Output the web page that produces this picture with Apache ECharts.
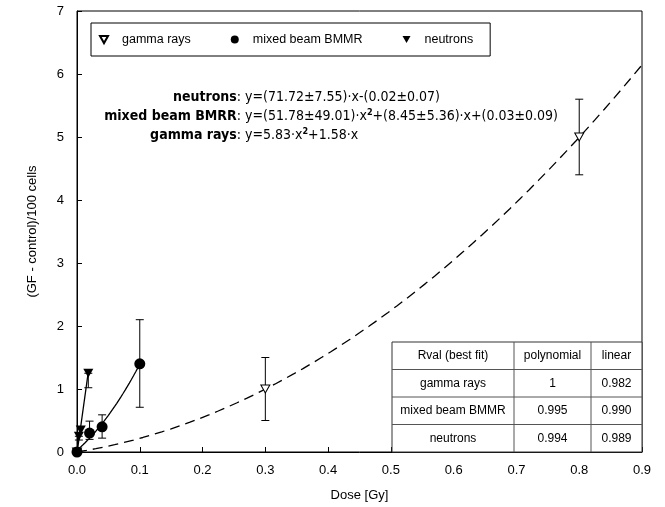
<!DOCTYPE html>
<html>
<head>
<meta charset="utf-8">
<script src="https://cdn.jsdelivr.net/npm/echarts@6/dist/echarts.min.js"></script>
<style>html,body{margin:0;padding:0;background:#fff}#c{width:665px;height:507px}</style>
</head>
<body>
<div id="c"></div>
<script>
// ---- data ----
const seriesNames = ['gamma rays', 'mixed beam BMMR', 'neutrons'];
const gammaX = [0, 0.3, 0.8];
const gammaY = [0, 1.0, 5.0];
const gammaLow = [0, 0.5, 4.4];
const gammaHigh = [0, 1.5, 5.6];
const mixedX = [0, 0.02, 0.04, 0.1];
const mixedY = [0, 0.3, 0.4, 1.4];
const mixedLow = [0, 0.2, 0.22, 0.71];
const mixedHigh = [0, 0.49, 0.59, 2.1];
const neutronX = [0.003, 0.006, 0.018];
const neutronY = [0.25, 0.35, 1.25];
const neutronLow = [0.19, 0.35, 1.02];
const neutronHigh = [0.25, 0.35, 1.25];
// fit coefficients as printed (a*x^2 + b*x + c)
const gammaFit = [5.83, 1.58, 0];
const mixedFit = [51.78, 8.45, 0.03];
const neutronFit = [0, 71.72, -0.02];
const gammaFitRange = [0, 0.9];
const mixedFitRange = [0, 0.1];
const neutronFitRange = [0.0003, 0.018];
const xTicks = ['0.0','0.1','0.2','0.3','0.4','0.5','0.6','0.7','0.8','0.9'];
const yTicks = ['0','1','2','3','4','5','6','7'];
const eqLabels = ['neutrons', 'mixed beam BMRR', 'gamma rays'];
const eqTexts = [
  'y=(71.72±7.55)·x-(0.02±0.07)',
  'y=(51.78±49.01)·x{s|2}+(8.45±5.36)·x+(0.03±0.09)',
  'y=5.83·x{s|2}+1.58·x'
];
const tableHeader = ['Rval (best fit)', 'polynomial', 'linear'];
const tableRows = [
  ['gamma rays', '1', '0.982'],
  ['mixed beam BMMR', '0.995', '0.990'],
  ['neutrons', '0.994', '0.989']
];

// ---- build ----
function fitCurve(c, range) {
  const pts = [];
  const n = 60;
  for (let i = 0; i <= n; i++) {
    const x = range[0] + (range[1] - range[0]) * i / n;
    pts.push([x, c[0] * x * x + c[1] * x + c[2]]);
  }
  return pts;
}
function pairs(xs, ys) { return xs.map((x, i) => [x, ys[i]]); }
function errData(xs, lo, hi) { return xs.map((x, i) => [x, lo[i], hi[i]]); }

const triDown = 'path://M0,0 L10,0 L5,9 Z';
function errSeries(data) {
  return {
    type: 'custom', silent: true, z: 3,
    renderItem: function (params, api) {
      const x = api.value(0), lo = api.value(1), hi = api.value(2);
      if (lo === hi) return null;
      const p1 = api.coord([x, lo]), p2 = api.coord([x, hi]);
      const w = 4;
      const st = { stroke: '#000', lineWidth: 1 };
      return {
        type: 'group', children: [
          { type: 'line', shape: { x1: p1[0], y1: p1[1], x2: p2[0], y2: p2[1] }, style: st },
          { type: 'line', shape: { x1: p1[0] - w, y1: p1[1], x2: p1[0] + w, y2: p1[1] }, style: st },
          { type: 'line', shape: { x1: p2[0] - w, y1: p2[1], x2: p2[0] + w, y2: p2[1] }, style: st }
        ]
      };
    },
    data: data
  };
}

const chart = echarts.init(document.getElementById('c'));
const FONT = '"Liberation Sans", Arial, sans-serif';

// table graphic
const tLeft = 392, tRight = 642, tTop = 342, tBottom = 452;
const colX = [tLeft, 514, 591, tRight];
const rowH = (tBottom - tTop) / 4;
const tableEls = [];
tableEls.push({ type: 'rect', shape: { x: tLeft, y: tTop, width: tRight - tLeft, height: tBottom - tTop }, style: { fill: '#fff', stroke: '#333', lineWidth: 1 }, z: 1 });
for (let r = 1; r < 4; r++) {
  tableEls.push({ type: 'line', shape: { x1: tLeft, y1: tTop + r * rowH, x2: tRight, y2: tTop + r * rowH }, style: { stroke: '#555', lineWidth: 1 }, z: 1 });
}
for (let c = 1; c < 3; c++) {
  tableEls.push({ type: 'line', shape: { x1: colX[c], y1: tTop, x2: colX[c], y2: tBottom }, style: { stroke: '#555', lineWidth: 1 }, z: 1 });
}
const allRows = [tableHeader].concat(tableRows);
allRows.forEach((row, r) => {
  row.forEach((txt, c) => {
    tableEls.push({ type: 'text', x: (colX[c] + colX[c + 1]) / 2, y: tTop + r * rowH + rowH / 2, z: 2,
      style: { text: txt, align: 'center', verticalAlign: 'middle', font: '12px ' + FONT, fill: '#000' } });
  });
});

// equations
const eqY = [97, 116, 135];
const eqEls = [];
const NARROW = '"Liberation Sans Narrow", "DejaVu Sans Condensed", sans-serif';
eqLabels.forEach((lab, i) => {
  eqEls.push({ type: 'text', x: 241, y: eqY[i], z: 5,
    style: { text: '{b|' + lab + '}{n|:}', align: 'right', verticalAlign: 'middle',
      rich: { b: { fontFamily: '"DejaVu Sans Condensed", "DejaVu Sans", sans-serif', fontWeight: 'bold', fontSize: 14, fill: '#000' },
              n: { fontFamily: NARROW, fontSize: 14, fill: '#000' } } } });
  eqEls.push({ type: 'text', x: 245, y: eqY[i], z: 5,
    style: { text: eqTexts[i], align: 'left', verticalAlign: 'middle',
      font: '14px ' + NARROW, fill: '#000',
      rich: { s: { fontFamily: NARROW, fontSize: 9, fontWeight: 'bold', padding: [0, 0, 7, 0], fill: '#000' } } } });
});

const option = {
  backgroundColor: '#fff',
  animation: false,
  grid: { left: 77, right: 23, top: 11, bottom: 55, show: true, borderColor: '#000', borderWidth: 1 },
  legend: {
    data: seriesNames,
    left: 91, top: 23,
    padding: [10, 17, 10, 8],
    borderColor: '#000', borderWidth: 1,
    itemGap: 40, itemWidth: 8, itemHeight: 8,
    textStyle: { fontFamily: FONT, fontSize: 12.5, color: '#000', padding: [0, 0, 0, 9] }
  },
  xAxis: {
    type: 'value', min: 0, max: 0.9, interval: 0.1,
    name: 'Dose [Gy]', nameLocation: 'middle', nameGap: 37,
    nameTextStyle: { fontFamily: FONT, fontSize: 13, color: '#000' },
    axisLine: { lineStyle: { color: '#000' } },
    axisTick: { inside: true, length: 5, lineStyle: { color: '#000' } },
    axisLabel: { margin: 12, fontFamily: FONT, fontSize: 13, color: '#000', formatter: v => xTicks[Math.round(v * 10)] },
    splitLine: { show: false }
  },
  yAxis: {
    type: 'value', min: 0, max: 7, interval: 1,
    name: '(GF - control)/100 cells', nameLocation: 'middle', nameGap: 38,
    nameTextStyle: { fontFamily: FONT, fontSize: 13, color: '#000' },
    axisLine: { show: true, lineStyle: { color: '#000' } },
    axisTick: { show: true, inside: true, length: 5, lineStyle: { color: '#000' } },
    axisLabel: { margin: 13, fontFamily: FONT, fontSize: 13, color: '#000', formatter: v => yTicks[Math.round(v)] },
    splitLine: { show: false }
  },
  graphic: tableEls.concat(eqEls),
  series: [
    { type: 'line', data: fitCurve(gammaFit, gammaFitRange), showSymbol: false, silent: true, z: 2,
      lineStyle: { color: '#000', width: 1.3, type: [10, 6] } },
    { type: 'line', data: fitCurve(mixedFit, mixedFitRange), showSymbol: false, silent: true, z: 2,
      lineStyle: { color: '#000', width: 1.3 } },
    { type: 'line', data: fitCurve(neutronFit, neutronFitRange), showSymbol: false, silent: true, z: 2,
      lineStyle: { color: '#000', width: 1.3 } },
    errSeries(errData(gammaX, gammaLow, gammaHigh)),
    errSeries(errData(mixedX, mixedLow, mixedHigh)),
    errSeries(errData(neutronX, neutronLow, neutronHigh)),
    { name: seriesNames[0], type: 'scatter', data: pairs(gammaX, gammaY), symbol: triDown, symbolSize: [9, 8], z: 4,
      itemStyle: { color: '#fff', borderColor: '#000', borderWidth: 1, opacity: 1 } },
    { name: seriesNames[1], type: 'scatter', data: pairs(mixedX, mixedY), symbol: 'circle', symbolSize: 11, z: 5,
      itemStyle: { color: '#000', opacity: 1 } },
    { name: seriesNames[2], type: 'scatter', data: pairs(neutronX, neutronY), symbol: triDown, symbolSize: [10, 9], z: 5,
      itemStyle: { color: '#000', opacity: 1 } }
  ]
};
chart.setOption(option);
</script>
</body>
</html>
